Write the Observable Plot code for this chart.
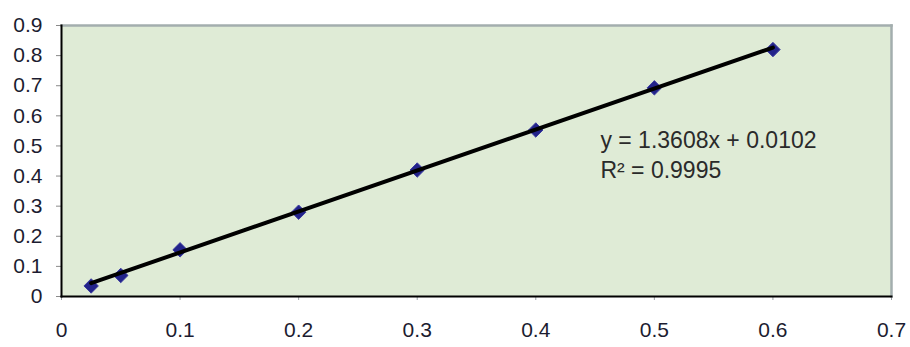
<!DOCTYPE html>
<html>
<head>
<meta charset="utf-8">
<script src="https://cdn.jsdelivr.net/npm/d3@7"></script>
<script src="https://cdn.jsdelivr.net/npm/@observablehq/plot@0.6"></script>
<style>
  html, body { margin: 0; padding: 0; background: #fff; }
  #chart svg { display: block; }
</style>
</head>
<body>
<div id="chart"></div>
<script>
// Data
const concentrations = [0.025, 0.05, 0.1, 0.2, 0.3, 0.4, 0.5, 0.6];
const absorbances    = [0.035, 0.07, 0.155, 0.28, 0.42, 0.553, 0.693, 0.82];
const slope = 1.3608;
const intercept = 0.0102;
const equationLines = ["y = 1.3608x + 0.0102", "R² = 0.9995"];
const xTicks = [0, 0.1, 0.2, 0.3, 0.4, 0.5, 0.6, 0.7];
const yTicks = [0, 0.1, 0.2, 0.3, 0.4, 0.5, 0.6, 0.7, 0.8, 0.9];

const points = concentrations.map((x, i) => ({x, y: absorbances[i]}));
const xMin = d3.min(concentrations), xMax = d3.max(concentrations);
const trend = [xMin, xMax].map(x => ({x, y: slope * x + intercept}));
const eqText = equationLines.join("\n");

const chart = Plot.plot({
  width: 910,
  height: 347,
  marginLeft: 61,
  marginRight: 19,
  marginTop: 25,
  marginBottom: 51,
  style: {fontFamily: "Arial, 'Liberation Sans', sans-serif", fontSize: "21px", color: "#1c1c30", background: "#fff"},
  x: {domain: [0, 0.7], ticks: xTicks, tickFormat: d => String(+d.toFixed(1))},
  y: {domain: [0, 0.9], ticks: yTicks, tickFormat: d => String(+d.toFixed(1))},
  marks: [
    Plot.frame({fill: "#dfebd6", stroke: null}),
    Plot.frame({anchor: "top", stroke: "#a3aeae", strokeWidth: 2.5}),
    Plot.frame({anchor: "right", stroke: "#a3aeae", strokeWidth: 2.5}),
    Plot.axisY({ticks: yTicks, tickSize: 5, tickPadding: 14, stroke: "#8a8a8a", tickFormat: d => String(+d.toFixed(1)), fontSize: 21, label: null}),
    Plot.axisX({ticks: xTicks, tickSize: 4, tickPadding: 22, stroke: "#9aa0a6", tickFormat: d => String(+d.toFixed(1)), fontSize: 21, label: null}),
    Plot.frame({anchor: "left", stroke: "#000", strokeWidth: 2}),
    Plot.frame({anchor: "bottom", stroke: "#000", strokeWidth: 2}),
    Plot.dot(points, {x: "x", y: "y", symbol: "diamond2", r: 6.5, fill: "#23238a", stroke: "#3a3aa0", strokeWidth: 1}),
    Plot.line(trend, {x: "x", y: "y", stroke: "#000", strokeWidth: 4}),
    Plot.text([eqText], {x: 0.4545, y: 0.562, text: d => d, textAnchor: "start", lineAnchor: "top", fontSize: 23, lineHeight: 1.3, fill: "#2a2a2a"})
  ]
});
document.getElementById("chart").appendChild(chart);
</script>
</body>
</html>
